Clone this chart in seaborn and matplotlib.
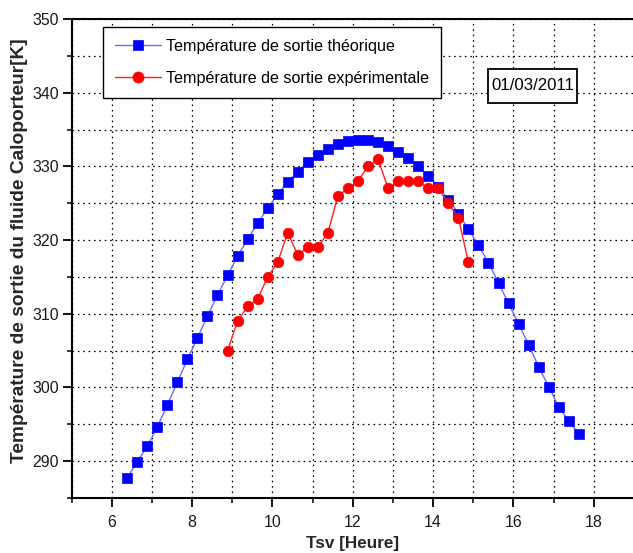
import matplotlib
matplotlib.use("Agg")
import matplotlib.pyplot as plt
from matplotlib import font_manager as fm
from matplotlib.patches import Rectangle
from matplotlib.ticker import MultipleLocator
import seaborn as sns
import pandas as pd

# Solar time [h] and outlet temperature of the heat-transfer fluid [K]
hours_theo = [6.38, 6.63, 6.88, 7.13, 7.38, 7.63, 7.88, 8.13, 8.38, 8.63,
              8.88, 9.13, 9.38, 9.63, 9.88, 10.13, 10.38, 10.63, 10.88, 11.13,
              11.38, 11.63, 11.88, 12.13, 12.38, 12.63, 12.88, 13.13, 13.38, 13.63,
              13.88, 14.13, 14.38, 14.63, 14.88, 15.13, 15.38, 15.63, 15.88, 16.13,
              16.38, 16.63, 16.88, 17.13, 17.38, 17.63]
temp_theo = [287.7, 289.9, 292.0, 294.6, 297.6, 300.7, 303.8, 306.7, 309.7, 312.5,
             315.2, 317.8, 320.1, 322.3, 324.3, 326.2, 327.9, 329.3, 330.6, 331.6,
             332.4, 333.0, 333.4, 333.6, 333.6, 333.3, 332.8, 332.0, 331.2, 330.1,
             328.7, 327.2, 325.5, 323.6, 321.5, 319.3, 316.9, 314.2, 311.4, 308.6,
             305.8, 302.8, 300.1, 297.4, 295.4, 293.7]

hours_exp = [8.88, 9.13, 9.38, 9.63, 9.88, 10.13, 10.38, 10.63, 10.88, 11.13,
             11.38, 11.63, 11.88, 12.13, 12.38, 12.63, 12.88, 13.13, 13.38, 13.63,
             13.88, 14.13, 14.38, 14.63, 14.88]
temp_exp = [305, 309, 311, 312, 315, 317, 321, 318, 319, 319,
            321, 326, 327, 328, 330, 331, 327, 328, 328, 328,
            327, 327, 325, 323, 317]

label_theo = "Température de sortie théorique"
label_exp = "Température de sortie expérimentale"
date_text = "01/03/2011"
x_label = "Tsv [Heure]"
y_label = "Température de sortie du fluide Caloporteur[K]"
x_ticks = [6, 8, 10, 12, 14, 16, 18]
y_ticks = [290, 300, 310, 320, 330, 340, 350]

sns.set_theme(style="white")


def has_font(name):
    try:
        fm.findfont(fm.FontProperties(family=name), fallback_to_default=False)
        return True
    except ValueError:
        return False


if has_font("Liberation Sans Narrow"):
    narrow = ["Liberation Sans Narrow", "Liberation Sans", "DejaVu Sans"]
    k = 1.0
else:
    narrow = ["Liberation Sans", "DejaVu Sans"]
    k = 0.83
wide = ["Liberation Sans", "DejaVu Sans"]

plt.rcParams["font.family"] = narrow
plt.rcParams["text.color"] = "black"

df_theo = pd.DataFrame({"h": hours_theo, "T": temp_theo})
df_exp = pd.DataFrame({"h": hours_exp, "T": temp_exp})

W, H = 633, 553
fig = plt.figure(figsize=(W / 100, H / 100), dpi=100)
ax = fig.add_axes([0.1133, 0.0995, 0.888, 0.8661])

sns.lineplot(data=df_theo, x="h", y="T", ax=ax, sort=False,
             color="#6b6bff", linewidth=1.0, marker="s", markersize=7.0,
             markerfacecolor="#0000ff", markeredgecolor="#0000ff",
             markeredgewidth=0.5, label=label_theo, zorder=3)
sns.lineplot(data=df_exp, x="h", y="T", ax=ax, sort=False,
             color="#ff2020", linewidth=1.0, marker="o", markersize=7.6,
             markerfacecolor="#ff0000", markeredgecolor="#ff0000",
             markeredgewidth=0.5, label=label_exp, zorder=4)

ax.set_xlim(5, 19)
ax.set_ylim(285, 350)
ax.set_xticks(x_ticks)
ax.set_yticks(y_ticks)
ax.xaxis.set_minor_locator(MultipleLocator(1))
ax.yaxis.set_minor_locator(MultipleLocator(5))

grid_kw = dict(color="black", linestyle=(0, (1.3, 3.0)), linewidth=0.9)
ax.grid(True, which="both", **grid_kw)
ax.set_axisbelow(True)

for side in ("left", "bottom", "top"):
    ax.spines[side].set_visible(True)
    ax.spines[side].set_color("black")
    ax.spines[side].set_linewidth(1.5)
ax.spines["right"].set_visible(False)

ax.tick_params(which="major", direction="out", length=6.5, width=1.3,
               color="black", labelsize=13.8 * k, labelcolor="#1a1a1a",
               left=True, bottom=True, top=False, right=False)
ax.tick_params(axis="x", which="major", pad=6)
ax.tick_params(axis="y", which="major", pad=2.5)
ax.tick_params(which="minor", direction="out", length=3.5, width=1.1,
               color="black", left=True, bottom=True, top=False, right=False)

ax.set_xlabel(x_label, fontsize=14.9 * k, fontweight="bold", labelpad=4)
ax.set_ylabel(y_label, fontsize=13.8, fontweight="bold", family=wide)
ax.yaxis.set_label_coords(-0.078, 0.516)

leg = ax.legend(loc="upper left", bbox_to_anchor=(103 / W, 1 - 27 / H),
                bbox_transform=fig.transFigure, borderaxespad=0,
                fontsize=14 * k, frameon=True, fancybox=False, shadow=False,
                handlelength=2.85, handletextpad=0.35, borderpad=0.72,
                labelspacing=1.08, markerscale=1.05)
leg.get_frame().set_edgecolor("black")
leg.get_frame().set_linewidth(1.0)
leg.get_frame().set_facecolor("white")
leg.get_frame().set_alpha(1)

# Date stamp inside a framed box
box_x0, box_y0, box_x1, box_y1 = 488, 69, 577, 103
fig.patches.append(Rectangle((box_x0 / W, 1 - box_y1 / H),
                             (box_x1 - box_x0) / W, (box_y1 - box_y0) / H,
                             transform=fig.transFigure, facecolor="white",
                             edgecolor="black", linewidth=1.3, zorder=5))
fig.text((box_x0 + box_x1) / 2 / W, 1 - (box_y0 + box_y1) / 2 / H, date_text,
         ha="center", va="center", fontsize=14.5 * k, zorder=6)

fig.savefig("out.png", dpi=100)
